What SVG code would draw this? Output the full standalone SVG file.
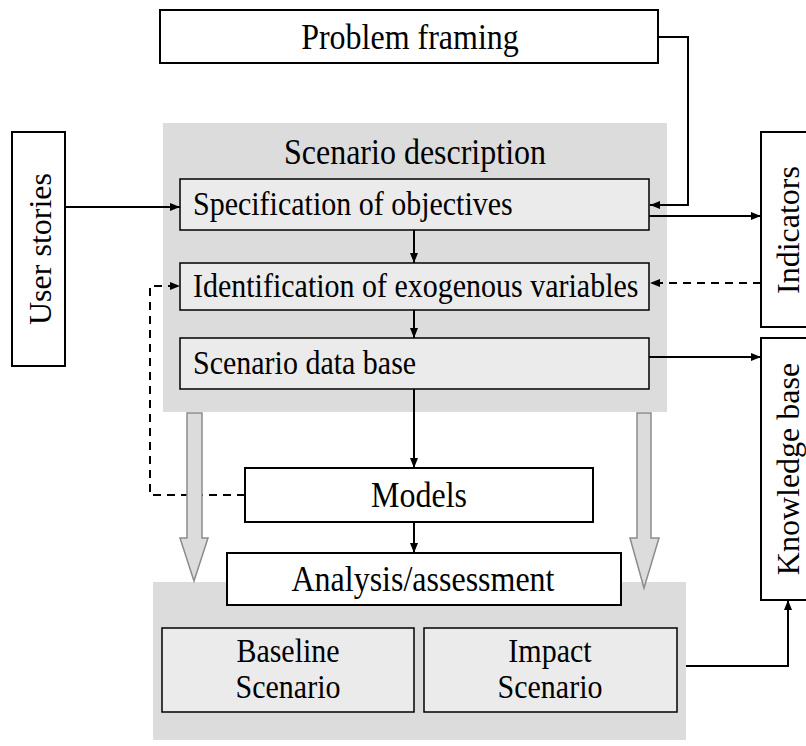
<svg xmlns="http://www.w3.org/2000/svg" width="806" height="746" viewBox="0 0 806 746">
<defs>
<marker id="ah" viewBox="0 0 10 10" refX="10" refY="5" markerWidth="10" markerHeight="10" markerUnits="userSpaceOnUse" orient="auto">
<path d="M0,1 L10,5 L0,9 Z" fill="#000"/>
</marker>
</defs>
<style>
text{font-family:"Liberation Serif","Times New Roman",serif;fill:#000}
.box{fill:#fff;stroke:#000;stroke-width:2}
.inner{fill:#ebebeb;stroke:#000;stroke-width:1.5}
.panel{fill:#dcdcdc;stroke:none}
.big{font-size:32px}
.mid{font-size:30px}
.ln{fill:none;stroke:#000;stroke-width:2}
.dash{stroke-dasharray:8,6}
.garrow{fill:#dcdcdc;stroke:#8c8c8c;stroke-width:1.5}
</style>
<rect width="806" height="746" fill="#fff"/>

<g id="scenario-description">
<rect class="panel" x="163" y="123" width="504" height="289"/>
<text class="big" transform="translate(415,164) scale(1,1.15)" text-anchor="middle">Scenario description</text>
</g>
<g id="analysis-panel">
<rect class="panel" x="153" y="582" width="533" height="158"/>
</g>

<g id="problem-framing">
<rect class="box" x="160" y="10" width="498" height="53"/>
<text class="big" transform="translate(410,49) scale(1,1.15)" text-anchor="middle">Problem framing</text>
</g>
<g id="user-stories">
<rect class="box" x="12" y="132" width="53" height="234"/>
<text class="big" transform="translate(51,249) rotate(-90)" text-anchor="middle">User stories</text>
</g>
<g id="indicators">
<rect class="box" x="761" y="132" width="60" height="195"/>
<text class="big" transform="translate(799,230) rotate(-90)" text-anchor="middle">Indicators</text>
</g>
<g id="knowledge-base">
<rect class="box" x="761" y="338" width="60" height="262"/>
<text class="big" transform="translate(799,469) rotate(-90)" text-anchor="middle">Knowledge base</text>
</g>
<g id="spec-objectives">
<rect class="inner" x="180" y="179" width="469" height="51"/>
<text class="mid" transform="translate(193,215) scale(1,1.15)">Specification of objectives</text>
</g>
<g id="ident-exogenous">
<rect class="inner" x="180" y="263" width="469" height="47"/>
<text class="mid" transform="translate(193,297) scale(1,1.15)">Identification of exogenous variables</text>
</g>
<g id="scenario-data-base">
<rect class="inner" x="180" y="338" width="469" height="51"/>
<text class="mid" transform="translate(193,374) scale(1,1.15)">Scenario data base</text>
</g>
<g id="baseline-scenario">
<rect class="inner" x="162" y="628" width="252" height="84"/>
<text class="mid" transform="translate(288,662) scale(1,1.15)" text-anchor="middle">Baseline</text>
<text class="mid" transform="translate(288,698) scale(1,1.15)" text-anchor="middle">Scenario</text>
</g>
<g id="impact-scenario">
<rect class="inner" x="424" y="628" width="253" height="84"/>
<text class="mid" transform="translate(550,662) scale(1,1.15)" text-anchor="middle">Impact</text>
<text class="mid" transform="translate(550,698) scale(1,1.15)" text-anchor="middle">Scenario</text>
</g>

<g id="connectors">
<path class="ln" d="M658,37 H688 V205 H650" marker-end="url(#ah)"/>
<path class="ln" d="M65,207 H180" marker-end="url(#ah)"/>
<path class="ln" d="M414,230 V263" marker-end="url(#ah)"/>
<path class="ln" d="M414,310 V338" marker-end="url(#ah)"/>
<path class="ln" d="M414,389 V468" marker-end="url(#ah)"/>
<path class="ln" d="M414,522 V553" marker-end="url(#ah)"/>
<path class="ln" d="M649,216 H761" marker-end="url(#ah)"/>
<path class="ln dash" d="M761,283 H650" marker-end="url(#ah)"/>
<path class="ln" d="M649,357 H761" marker-end="url(#ah)"/>
<path class="ln dash" d="M245,495 H150 V286 H180" marker-end="url(#ah)"/>
<path class="ln" d="M686,666 H788 V600" marker-end="url(#ah)"/>
</g>

<g id="gray-arrows">
<path class="garrow" d="M187,413 H202 V538 H208 L194,581 L180,538 H187 Z"/>
<path class="garrow" d="M637,413 H651 V538 H659 L644,588 L630,538 H637 Z"/>
</g>

<g id="models">
<rect class="box" x="245" y="468" width="348" height="54"/>
<text class="big" transform="translate(419,507) scale(1,1.15)" text-anchor="middle">Models</text>
</g>
<g id="analysis-assessment">
<rect class="box" x="227" y="553" width="394" height="52"/>
<text class="big" transform="translate(423,591) scale(1,1.15)" text-anchor="middle">Analysis/assessment</text>
</g>
</svg>
